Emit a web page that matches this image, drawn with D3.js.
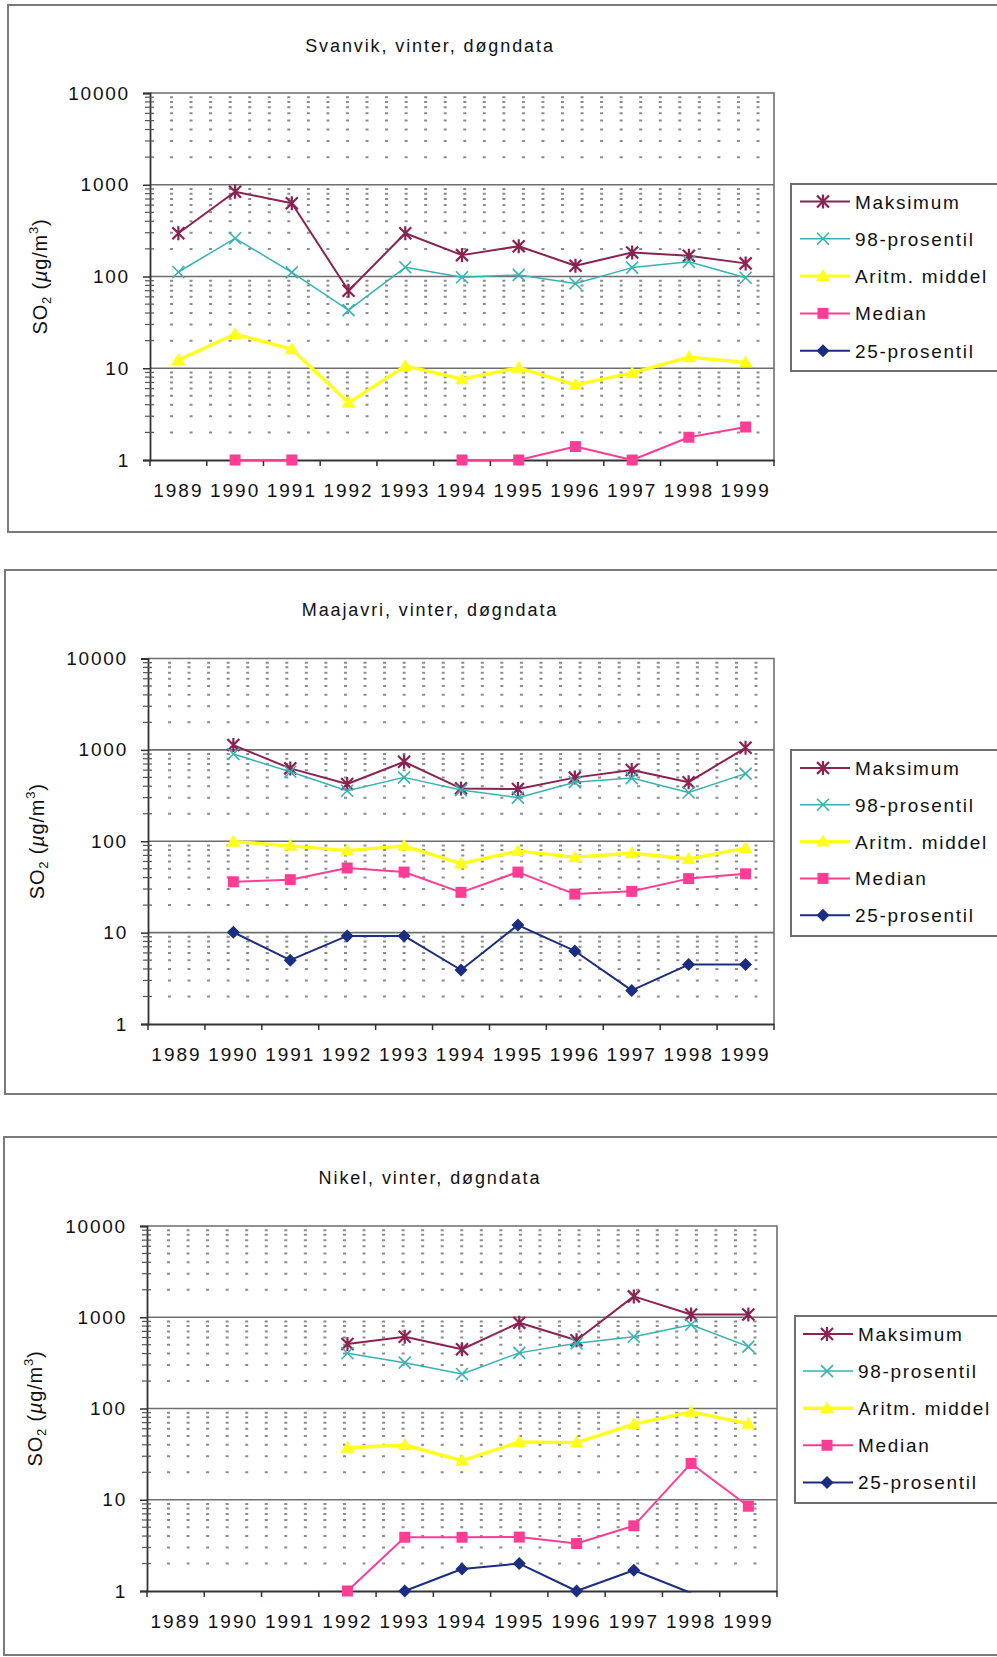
<!DOCTYPE html>
<html>
<head>
<meta charset="utf-8">
<script src="https://cdn.jsdelivr.net/npm/d3@7/dist/d3.min.js"></script>
<style>
  html, body { margin: 0; padding: 0; background: #fff; }
  svg { display: block; }
  text { font-family: "Liberation Sans", Arial, sans-serif; fill: #111; }
</style>
</head>
<body>
<svg id="chart" width="997" height="1657"></svg>
<script>
// ---------- DATA ----------
const years = ["1989","1990","1991","1992","1993","1994","1995","1996","1997","1998","1999"];
const yTickValues = [1, 10, 100, 1000, 10000];
const seriesNames = ["Maksimum", "98-prosentil", "Aritm. middel", "Median", "25-prosentil"];
const chartTitles = ["Svanvik, vinter, døgndata", "Maajavri, vinter, døgndata", "Nikel, vinter, døgndata"];

// Svanvik
const svanvikMaks   = [296, 840, 628, 70, 296, 171, 214, 131, 183, 168, 139];
const svanvik98     = [112, 261, 111, 43, 126, 98, 104, 84, 125, 145, 97];
const svanvikMiddel = [12.3, 23.6, 16.1, 4.2, 10.6, 7.6, 10.1, 6.6, 8.9, 13.2, 11.6];
const svanvikMedian = [null, 1.0, 1.0, null, null, 1.0, 1.0, 1.4, 1.0, 1.77, 2.29];
const svanvik25     = [null, null, null, null, null, null, null, null, null, null, null];

// Maajavri
const maajavriMaks   = [null, 1129, 627, 423, 741, 379, 373, 497, 601, 443, 1054];
const maajavri98     = [null, 900, 576, 357, 500, 363, 300, 443, 491, 342, 550];
const maajavriMiddel = [null, 99, 89, 79, 89, 57, 78, 67, 74, 64, 84];
const maajavriMedian = [null, 36, 38, 51, 46, 27.6, 46, 26.4, 28.3, 39, 44];
const maajavri25     = [null, 10.1, 5.0, 9.2, 9.2, 3.9, 12.1, 6.3, 2.33, 4.47, 4.47];

// Nikel
const nikelMaks   = [null, null, null, 509, 612, 446, 872, 560, 1693, 1072, 1072];
const nikel98     = [null, null, null, 403, 318, 239, 407, 518, 611, 827, 476];
const nikelMiddel = [null, null, null, 37.2, 39.8, 26.8, 43, 42.3, 67.5, 92, 68];
const nikelMedian = [null, null, null, 1.0, 3.88, 3.88, 3.9, 3.31, 5.18, 25, 8.5];
const nikel25     = [null, null, null, null, 1.0, 1.74, 2.0, 1.0, 1.69, 0.95, null];

// ---------- STYLES ----------
const seriesStyle = [
  { color: "#8b2252", width: 2,   marker: "star" },
  { color: "#38b2b2", width: 1.5, marker: "x" },
  { color: "#ffff1a", width: 3.4, marker: "triangle" },
  { color: "#ff3d95", width: 2,   marker: "square" },
  { color: "#1b2d80", width: 2,   marker: "diamond" }
];

const layouts = [
  { frame: {x: 8, y: 5, b: 532}, plot: {l: 150, r: 774, t: 93, b: 460}, titleX: 430, titleY: 46, ylabX: 40,
    legend: {x: 791, y: 184, w: 210, h: 187, y0: 201.5, dy: 37.3, lx0: 800, lx1: 850, mx: 823, tx: 855} },
  { frame: {x: 5, y: 570, b: 1094}, plot: {l: 148, r: 774, t: 658.5, b: 1024}, titleX: 430, titleY: 610, ylabX: 37,
    legend: {x: 791, y: 750, w: 210, h: 186, y0: 768, dy: 36.8, lx0: 800, lx1: 850, mx: 823, tx: 855} },
  { frame: {x: 4, y: 1137, b: 1655}, plot: {l: 147, r: 777, t: 1226, b: 1591}, titleX: 430, titleY: 1178, ylabX: 35,
    legend: {x: 795, y: 1316, w: 210, h: 187, y0: 1334, dy: 37.1, lx0: 803, lx1: 853, mx: 827, tx: 858} }
];

const chartData = [
  [svanvikMaks, svanvik98, svanvikMiddel, svanvikMedian, svanvik25],
  [maajavriMaks, maajavri98, maajavriMiddel, maajavriMedian, maajavri25],
  [nikelMaks, nikel98, nikelMiddel, nikelMedian, nikel25]
];

const svg = d3.select("#chart");

function drawMarker(g, type, x, y, color) {
  const s = 6;
  if (type === "star") {
    g.append("path")
      .attr("d", `M${x},${y - s - 1}L${x},${y + s + 1}M${x - s},${y - s}L${x + s},${y + s}M${x - s},${y + s}L${x + s},${y - s}`)
      .attr("stroke", color).attr("stroke-width", 2.2).attr("fill", "none");
  } else if (type === "x") {
    g.append("path")
      .attr("d", `M${x - s},${y - s}L${x + s},${y + s}M${x - s},${y + s}L${x + s},${y - s}`)
      .attr("stroke", color).attr("stroke-width", 1.6).attr("fill", "none");
  } else if (type === "triangle") {
    g.append("path")
      .attr("d", `M${x},${y - 7}L${x + 7},${y + 5}L${x - 7},${y + 5}Z`)
      .attr("fill", color);
  } else if (type === "square") {
    g.append("rect").attr("x", x - 5.5).attr("y", y - 5.5).attr("width", 11).attr("height", 11)
      .attr("fill", color);
  } else if (type === "diamond") {
    g.append("path")
      .attr("d", `M${x},${y - 6.5}L${x + 6.5},${y}L${x},${y + 6.5}L${x - 6.5},${y}Z`)
      .attr("fill", color);
  }
}

chartData.forEach((seriesArr, ci) => {
  const L = layouts[ci];
  const P = L.plot;
  const g = svg.append("g");

  // outer frame
  g.append("path")
    .attr("d", `M1010,${L.frame.y}L${L.frame.x},${L.frame.y}L${L.frame.x},${L.frame.b}L1010,${L.frame.b}`)
    .attr("fill", "none").attr("stroke", "#7a7a7a").attr("stroke-width", 2);

  // title
  g.append("text").attr("x", L.titleX).attr("y", L.titleY + 6)
    .attr("text-anchor", "middle").attr("font-size", 18).attr("letter-spacing", 1.9)
    .text(chartTitles[ci]);

  const x = d3.scaleBand().domain(years).range([P.l, P.r]).padding(0);
  const y = d3.scaleLog().domain([1, 10000]).range([P.b, P.t]);

  // minor gridlines (dotted)
  const minorVals = [];
  for (let e = 0; e < 4; e++) for (let m = 2; m <= 9; m++) minorVals.push(m * Math.pow(10, e));
  g.append("g").selectAll("line").data(minorVals).join("line")
    .attr("x1", P.l + 20).attr("x2", P.r - 8)
    .attr("y1", d => y(d)).attr("y2", d => y(d))
    .attr("stroke", "#8c8c8c").attr("stroke-width", 2).attr("stroke-dasharray", "3,16.55");

  // major gridlines
  g.append("g").selectAll("line").data([10, 100, 1000]).join("line")
    .attr("x1", P.l).attr("x2", P.r)
    .attr("y1", d => y(d)).attr("y2", d => y(d))
    .attr("stroke", "#6e6e6e").attr("stroke-width", 1.6);

  // plot border top/right
  g.append("path").attr("d", `M${P.l},${P.t}L${P.r},${P.t}L${P.r},${P.b}`)
    .attr("fill", "none").attr("stroke", "#6e6e6e").attr("stroke-width", 1.6);

  // y axis
  const yAxis = d3.axisLeft(y).tickValues(yTickValues).tickFormat(d3.format("d")).tickSize(7).tickPadding(13);
  const ya = g.append("g").attr("transform", `translate(${P.l},0)`).call(yAxis);
  ya.select(".domain").attr("stroke", "#333").attr("stroke-width", 1.8);
  ya.selectAll(".tick line").attr("stroke", "#333").attr("stroke-width", 1.5);
  ya.selectAll(".tick text").attr("font-size", 19).attr("letter-spacing", 1.8)
    .attr("font-family", "Liberation Sans, Arial, sans-serif").attr("fill", "#111");
  // minor ticks crossing the axis
  g.append("g").selectAll("line").data(minorVals).join("line")
    .attr("x1", P.l - 5).attr("x2", P.l + 4)
    .attr("y1", d => y(d)).attr("y2", d => y(d))
    .attr("stroke", "#555").attr("stroke-width", 1.2);

  // x axis
  const xAxis = d3.axisBottom(x).tickSize(0).tickPadding(24);
  const xa = g.append("g").attr("transform", `translate(0,${P.b})`).call(xAxis);
  xa.select(".domain").attr("stroke", "#333").attr("stroke-width", 1.8);
  xa.selectAll(".tick text").attr("font-size", 19).attr("letter-spacing", 2)
    .attr("font-family", "Liberation Sans, Arial, sans-serif").attr("fill", "#111");
  // boundary ticks
  const bounds = years.map(d => x(d)).concat([P.r]);
  g.append("g").selectAll("line").data(bounds).join("line")
    .attr("x1", d => d).attr("x2", d => d).attr("y1", P.b).attr("y2", P.b + 6)
    .attr("stroke", "#333").attr("stroke-width", 1.5);

  // y label
  const yl = g.append("text")
    .attr("transform", `translate(${L.ylabX + 7},${(P.t + P.b) / 2}) rotate(-90)`)
    .attr("text-anchor", "middle").attr("font-size", 20).attr("letter-spacing", 0.8);
  yl.append("tspan").text("SO");
  yl.append("tspan").attr("font-size", 13).attr("dy", 4).text("2");
  yl.append("tspan").attr("dy", -4).text(" (");
  yl.append("tspan").attr("font-style", "italic").text("µ");
  yl.append("tspan").text("g/m");
  yl.append("tspan").attr("font-size", 13).attr("dy", -9).text("3");
  yl.append("tspan").attr("dy", 9).text(")");

  // clip
  const clipId = "clip" + ci;
  svg.append("defs").append("clipPath").attr("id", clipId)
    .append("rect").attr("x", P.l - 10).attr("y", P.t - 10).attr("width", P.r - P.l + 20).attr("height", P.b - P.t + 11.5);

  // series
  const cx = d => x(d) + x.bandwidth() / 2;
  seriesArr.forEach((vals, si) => {
    const st = seriesStyle[si];
    const pts = years.map((yr, i) => ({ yr, v: vals[i] }));
    const line = d3.line().defined(d => d.v != null).x(d => cx(d.yr)).y(d => y(d.v));
    g.append("path").datum(pts).attr("d", line)
      .attr("fill", "none").attr("stroke", st.color).attr("stroke-width", st.width)
      .attr("stroke-linejoin", "round").attr("clip-path", `url(#${clipId})`);
    const mg = g.append("g");
    pts.filter(d => d.v != null && d.v >= 1).forEach(d => drawMarker(mg, st.marker, cx(d.yr), y(d.v), st.color));
  });

  // legend
  const Lg = L.legend;
  g.append("rect").attr("x", Lg.x).attr("y", Lg.y).attr("width", Lg.w).attr("height", Lg.h)
    .attr("fill", "#fff").attr("stroke", "#6e6e6e").attr("stroke-width", 2);
  seriesNames.forEach((name, si) => {
    const st = seriesStyle[si];
    const yy = Lg.y0 + si * Lg.dy;
    g.append("line").attr("x1", Lg.lx0).attr("x2", Lg.lx1).attr("y1", yy).attr("y2", yy)
      .attr("stroke", st.color).attr("stroke-width", st.width);
    drawMarker(g, st.marker, Lg.mx, yy, st.color);
    g.append("text").attr("x", Lg.tx).attr("y", yy + 7).attr("font-size", 19).attr("letter-spacing", 1.7)
      .text(name);
  });
});
</script>
</body>
</html>
